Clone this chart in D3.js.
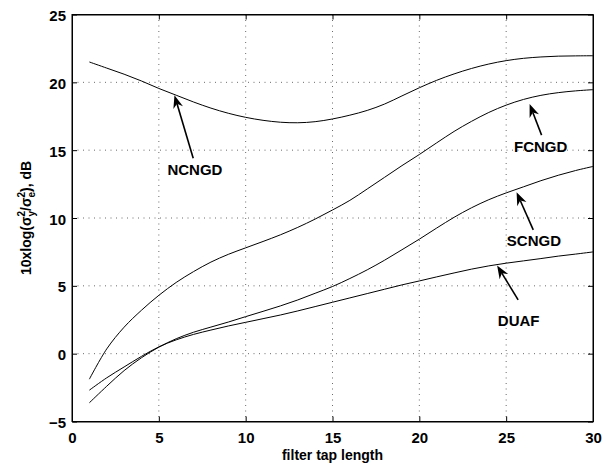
<!DOCTYPE html>
<html lang="en">
<head>
<meta charset="UTF-8">
<title>filter tap length chart</title>
<script src="https://d3js.org/d3.v7.min.js"></script>
<style>
  body { margin: 0; background: #fff; }
  text { font-family: "Liberation Sans", Arial, sans-serif; font-weight: bold; fill: #000; }
</style>
</head>
<body>
<svg id="chart" width="616" height="464"></svg>
<script>
// data
const taps = d3.range(1, 31);
const ncngd = [21.5, 21.05, 20.6, 20.1, 19.55, 19.05, 18.55, 18.1, 17.72, 17.42,
  17.2, 17.06, 17.02, 17.1, 17.3, 17.58, 17.93, 18.4, 19.0, 19.6,
  20.15, 20.62, 21.02, 21.35, 21.6, 21.77, 21.87, 21.93, 21.95, 21.96];
const fcngd = [-1.88, 0.35, 1.95, 3.2, 4.3, 5.25, 6.05, 6.75, 7.32, 7.8,
  8.27, 8.76, 9.31, 9.92, 10.59, 11.3, 12.14, 13.0, 13.86, 14.68,
  15.54, 16.38, 17.12, 17.78, 18.32, 18.74, 19.04, 19.24, 19.37, 19.46];
const scngd = [-3.62, -2.4, -1.25, -0.3, 0.48, 1.1, 1.58, 1.96, 2.33, 2.73,
  3.12, 3.52, 3.96, 4.45, 4.95, 5.54, 6.18, 6.89, 7.66, 8.44,
  9.26, 10.05, 10.75, 11.35, 11.85, 12.3, 12.75, 13.15, 13.5, 13.8];
const duaf = [-2.69, -1.78, -0.98, -0.2, 0.5, 1.02, 1.42, 1.74, 2.04, 2.31,
  2.58, 2.85, 3.15, 3.47, 3.79, 4.11, 4.43, 4.75, 5.07, 5.36,
  5.66, 5.95, 6.23, 6.47, 6.67, 6.84, 7.01, 7.19, 7.34, 7.5];

const xTicks = [0, 5, 10, 15, 20, 25, 30];
const yTicks = [-5, 0, 5, 10, 15, 20, 25];

// annotations: label, arrow tip, arrow tail, label centre (data units)
const notes = [
  { label: "NCNGD", tip: [5.9, 19.05], tail: [6.98, 14.4], at: [7.08, 13.6] },
  { label: "FCNGD", tip: [26.35, 18.4], tail: [27.04, 16.11], at: [26.99, 15.23] },
  { label: "SCNGD", tip: [25.6, 11.9], tail: [26.56, 9.12], at: [26.6, 8.37] },
  { label: "DUAF", tip: [24.48, 6.5], tail: [25.69, 3.96], at: [25.72, 2.45] }
];

const svg = d3.select("#chart");
const mLeft = 72, mRight = 593, mTop = 14.5, mBottom = 421.5;

const x = d3.scaleLinear().domain([0, 30]).range([mLeft, mRight]);
const y = d3.scaleLinear().domain([-5, 25]).range([mBottom, mTop]);

// dotted grid
const grid = svg.append("g").attr("stroke", "#444").attr("stroke-width", 0.8)
  .attr("stroke-dasharray", "1,4.5");
grid.selectAll(".gx").data(xTicks.slice(1, -1)).enter().append("line")
  .attr("x1", d => x(d)).attr("x2", d => x(d)).attr("y1", mTop).attr("y2", mBottom);
grid.selectAll(".gy").data(yTicks.slice(1, -1)).enter().append("line")
  .attr("y1", d => y(d)).attr("y2", d => y(d)).attr("x1", mLeft).attr("x2", mRight);

// axes with inward ticks, box on all sides
svg.append("g").attr("transform", `translate(0,${mBottom})`)
  .call(d3.axisBottom(x).tickValues(xTicks).tickSizeInner(-5).tickSizeOuter(0).tickPadding(10))
  .call(g => g.selectAll("text").attr("font-size", 15).attr("dy", "0.75em"));
svg.append("g").attr("transform", `translate(0,${mTop})`)
  .call(d3.axisTop(x).tickValues(xTicks).tickSizeInner(-5).tickSizeOuter(0).tickFormat(""));
svg.append("g").attr("transform", `translate(${mLeft},0)`)
  .call(d3.axisLeft(y).tickValues(yTicks).tickSizeInner(-5).tickSizeOuter(0).tickPadding(6))
  .call(g => g.selectAll("text").attr("font-size", 15).attr("dy", "0.4em"));
svg.append("g").attr("transform", `translate(${mRight},0)`)
  .call(d3.axisRight(y).tickValues(yTicks).tickSizeInner(-5).tickSizeOuter(0).tickFormat(""));
svg.selectAll(".domain").attr("stroke", "#000");
svg.selectAll(".tick line").attr("stroke", "#000");
svg.selectAll(".tick text").attr("font-family", null).attr("fill", "#000");
svg.append("rect").attr("x", mLeft).attr("y", mTop)
  .attr("width", mRight - mLeft).attr("height", mBottom - mTop)
  .attr("fill", "none").attr("stroke", "#000").attr("stroke-width", 1);

// curves
const line = d3.line().x((d, i) => x(taps[i])).y(d => y(d)).curve(d3.curveCatmullRom.alpha(0.5));
[ncngd, fcngd, scngd, duaf].forEach(s => {
  svg.append("path").datum(s).attr("d", line)
    .attr("fill", "none").attr("stroke", "#000").attr("stroke-width", 1);
});

// arrows and labels
notes.forEach(n => {
  const tx = x(n.tip[0]), ty = y(n.tip[1]);
  const sx = x(n.tail[0]), sy = y(n.tail[1]);
  const ang = Math.atan2(ty - sy, tx - sx);
  const len = 13, half = 5, notch = 9;
  const ux = Math.cos(ang), uy = Math.sin(ang);
  const px = -uy, py = ux;
  const bx = tx - ux * len, by = ty - uy * len;
  const nx = tx - ux * notch, ny = ty - uy * notch;
  svg.append("line").attr("x1", sx).attr("y1", sy).attr("x2", nx).attr("y2", ny)
    .attr("stroke", "#000").attr("stroke-width", 1.6);
  svg.append("path")
    .attr("d", `M${tx},${ty}L${bx + px * half},${by + py * half}L${nx},${ny}L${bx - px * half},${by - py * half}Z`)
    .attr("fill", "#000");
  svg.append("text").attr("x", x(n.at[0])).attr("y", y(n.at[1]))
    .attr("dy", "0.36em").attr("text-anchor", "middle").attr("font-size", 15)
    .text(n.label);
});

// axis titles
svg.append("text").attr("x", (mLeft + mRight) / 2).attr("y", 460)
  .attr("text-anchor", "middle").attr("font-size", 14).text("filter tap length");

const yl = svg.append("text").attr("transform", `translate(31,${(mTop + mBottom) / 2}) rotate(-90)`)
  .attr("text-anchor", "middle").attr("font-size", 14);
yl.append("tspan").text("10xlog(σ");
yl.append("tspan").attr("font-size", 10).attr("dy", "-0.6em").text("2");
yl.append("tspan").attr("font-size", 10).attr("dx", -5.6).attr("dy", "1.0em").text("y");
yl.append("tspan").attr("dy", "-0.3em").text("/σ");
yl.append("tspan").attr("font-size", 10).attr("dy", "-0.6em").text("2");
yl.append("tspan").attr("font-size", 10).attr("dx", -5.6).attr("dy", "1.0em").text("e");
yl.append("tspan").attr("dy", "-0.3em").text("), dB");
</script>
</body>
</html>
